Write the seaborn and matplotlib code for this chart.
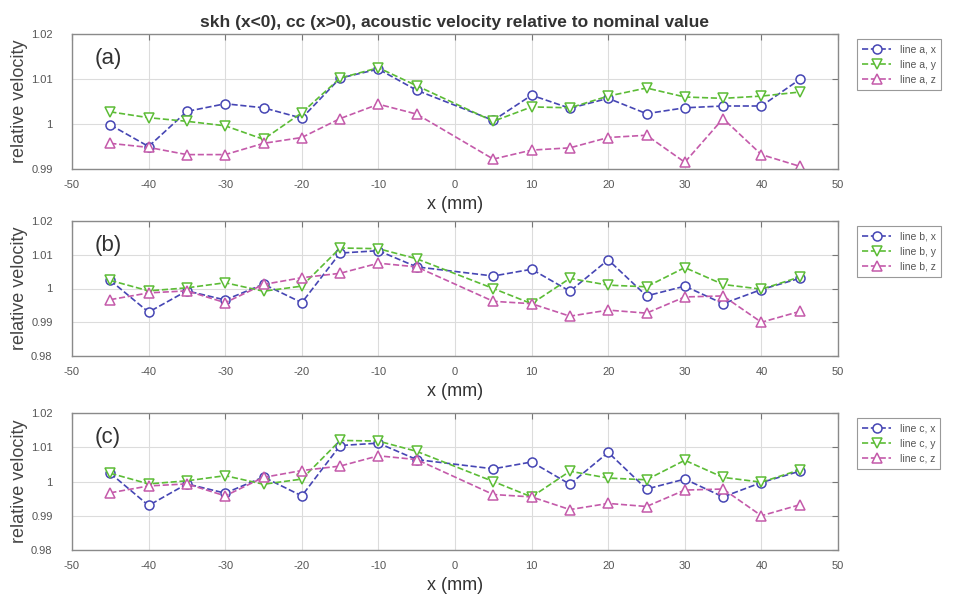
import matplotlib
matplotlib.use("Agg")
import matplotlib.pyplot as plt
import seaborn as sns
import numpy as np
import pandas as pd

x_mm = [-45, -40, -35, -30, -25, -20, -15, -10, -5, 5, 10, 15, 20, 25, 30, 35, 40, 45]

a_x = [0.9998, 0.9950, 1.0028, 1.0045, 1.0036, 1.0013, 1.0102, 1.0122, 1.0075,
       1.0008, 1.0064, 1.0035, 1.0057, 1.0023, 1.0036, 1.0040, 1.0040, 1.0099]
a_y = [1.0027, 1.0014, 1.0006, 0.9996, 0.9966, 1.0025, 1.0102, 1.0125, 1.0085,
       1.0006, 1.0038, 1.0036, 1.0062, 1.0080, 1.0060, 1.0057, 1.0062, 1.0071]
a_z = [0.9957, 0.9948, 0.9932, 0.9932, 0.9957, 0.9970, 1.0012, 1.0044, 1.0022,
       0.9922, 0.9942, 0.9947, 0.9970, 0.9975, 0.9915, 1.0012, 0.9932, 0.9906]

b_x = [1.0024, 0.9930, 0.9993, 0.9966, 1.0013, 0.9958, 1.0105, 1.0112, 1.0064,
       1.0037, 1.0057, 0.9992, 1.0085, 0.9978, 1.0007, 0.9955, 0.9997, 1.0030]
b_y = [1.0024, 0.9993, 1.0002, 1.0017, 0.9992, 1.0007, 1.0120, 1.0118, 1.0088,
       1.0000, 0.9955, 1.0030, 1.0010, 1.0005, 1.0062, 1.0012, 0.9998, 1.0034]
b_z = [0.9967, 0.9987, 0.9993, 0.9958, 1.0012, 1.0032, 1.0045, 1.0075, 1.0064,
       0.9962, 0.9955, 0.9918, 0.9936, 0.9927, 0.9975, 0.9978, 0.9900, 0.9932]

c_x = list(b_x)
c_y = list(b_y)
c_z = list(b_z)

panels = [
    ("(a)", "a", [a_x, a_y, a_z], [0.99, 1.0, 1.01, 1.02], ["0.99", "1", "1.01", "1.02"]),
    ("(b)", "b", [b_x, b_y, b_z], [0.98, 0.99, 1.0, 1.01, 1.02], ["0.98", "0.99", "1", "1.01", "1.02"]),
    ("(c)", "c", [c_x, c_y, c_z], [0.98, 0.99, 1.0, 1.01, 1.02], ["0.98", "0.99", "1", "1.01", "1.02"]),
]
x_ticks = [-50, -40, -30, -20, -10, 0, 10, 20, 30, 40, 50]
components = ["x", "y", "z"]
colors = ["#4646b4", "#5cbc36", "#c45aaa"]
markers = ["o", "v", "^"]
title = "skh (x<0), cc (x>0), acoustic velocity relative to nominal value"

sns.set_theme(style="whitegrid")
plt.rcParams['font.family'] = ['Liberation Sans', 'DejaVu Sans']

W, H = 958, 603
fig = plt.figure(figsize=(W / 100, H / 100), dpi=100)
fig.patch.set_facecolor("white")

# (top_px, bottom_px) of each axes
boxes = [(34, 169), (221, 356), (413, 550)]
left_px, right_px = 72, 838

for (lab, letter, series, yt, ytl), (tp, bp) in zip(panels, boxes):
    ax = fig.add_axes([left_px / W, 1 - bp / H, (right_px - left_px) / W, (bp - tp) / H])
    ax.set_facecolor("white")
    for vals, comp, col, mk in zip(series, components, colors, markers):
        sns.lineplot(x=x_mm, y=vals, ax=ax, color=col, marker=mk, linestyle="--",
                     linewidth=1.2, markersize=6.5, markerfacecolor="white",
                     markeredgecolor=col, markeredgewidth=1.1,
                     label=f"line {letter}, {comp}")
    ax.set_xlim(-50, 50)
    ax.set_ylim(yt[0], yt[-1])
    ax.set_xticks(x_ticks)
    ax.set_xticklabels([str(v) for v in x_ticks])
    ax.set_yticks(yt)
    ax.set_yticklabels(ytl)
    ax.grid(True, color="#dcdcdc", linewidth=0.8)
    for s in ax.spines.values():
        s.set_color("#8a8a8a")
        s.set_linewidth(1.0)
    ax.tick_params(axis="both", direction="in", length=4, width=0.8, color="#777777",
                   labelsize=8, labelcolor="#555555", top=True, right=True)
    ax.tick_params(axis="x", pad=8)
    ax.tick_params(axis="y", pad=14)
    ax.set_xlabel("x (mm)", fontsize=13, color="#333333", labelpad=4)
    ax.set_ylabel("relative velocity", fontsize=13, color="#444444", labelpad=2)
    ax.text(0.03, 0.78, lab, transform=ax.transAxes, fontsize=16, color="#333333")
    leg = ax.legend(loc="upper left", bbox_to_anchor=(1.018, 1.0), fontsize=7.5,
                    frameon=True, fancybox=False, borderpad=0.5, handlelength=2.8,
                    labelspacing=0.5, framealpha=1)
    leg.get_frame().set_edgecolor("#999999")
    leg.get_frame().set_linewidth(0.8)
    for t in leg.get_texts():
        t.set_color("#555555")
    if letter == "a":
        ax.set_title(title, fontsize=12.5, fontweight="bold", color="#333333", pad=5,
                     family=['Liberation Sans Narrow', 'Liberation Sans', 'DejaVu Sans'])

fig.savefig("out.png", dpi=100, facecolor="white")
